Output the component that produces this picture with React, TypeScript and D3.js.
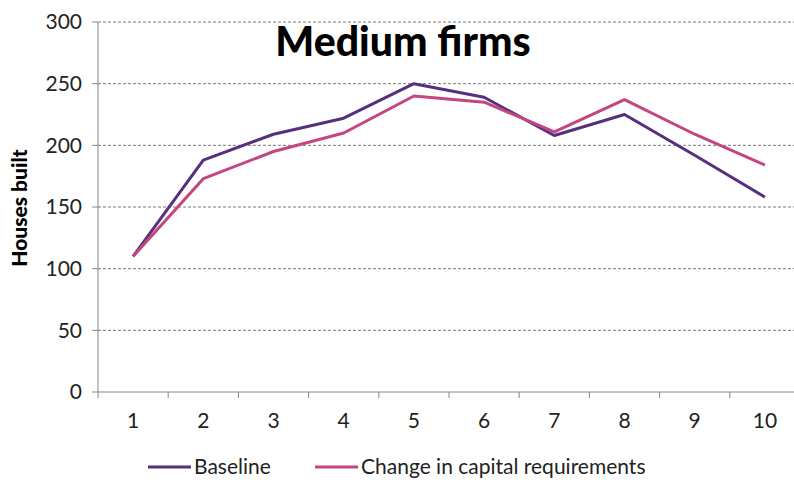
import React from "react";
import * as d3 from "d3";

const categories = ["1", "2", "3", "4", "5", "6", "7", "8", "9", "10"];
const baseline = [110, 188, 209, 222, 250, 239, 208, 225, 192, 158];
const capitalChange = [110, 173, 195, 210, 240, 235, 211, 237, 209, 184];
const yTicks = [0, 50, 100, 150, 200, 250, 300];

const W = 794;
const H = 487;
const left = 98;
const right = 800;
const top = 22;
const bottom = 392;

export default function App() {
  const x = d3.scaleBand<string>().domain(categories).range([left, right]);
  const y = d3.scaleLinear().domain([0, 300]).range([bottom, top]);
  const line = d3
    .line<number>()
    .x((_, i) => (x(categories[i]) as number) + x.bandwidth() / 2)
    .y((d) => y(d));
  const font = "Lato, 'Open Sans', sans-serif";
  const series = [
    { name: "Baseline", values: baseline, color: "#56307f", lx: 148 },
    { name: "Change in capital requirements", values: capitalChange, color: "#c4457f", lx: 315 },
  ];
  return (
    <svg width={W} height={H} style={{ position: "absolute", left: 0, top: 0, background: "#fff" }}>
      {yTicks.map((t) => (
        <g key={t}>
          {t > 0 && (
            <line x1={left} x2={W} y1={y(t)} y2={y(t)} stroke="#777" strokeWidth={1} strokeDasharray="3,2" />
          )}
          <line x1={92} x2={left} y1={y(t)} y2={y(t)} stroke="#888" strokeWidth={1} />
          <text x={82} y={y(t)} dy="0.35em" textAnchor="end" fontFamily={font} fontSize={21} fill="#222">
            {t}
          </text>
        </g>
      ))}
      <line x1={left} x2={left} y1={top} y2={bottom + 6} stroke="#888" strokeWidth={1} />
      <line x1={left} x2={W} y1={bottom} y2={bottom} stroke="#888" strokeWidth={1} />
      {categories.map((c, i) => (
        <g key={c}>
          {i > 0 && (
            <line x1={x(c)} x2={x(c)} y1={bottom} y2={bottom + 6} stroke="#888" strokeWidth={1} />
          )}
          <text
            x={(x(c) as number) + x.bandwidth() / 2}
            y={421}
            dy="0.35em"
            textAnchor="middle"
            fontFamily={font}
            fontSize={21}
            fill="#222"
          >
            {c}
          </text>
        </g>
      ))}
      {series.map((s) => (
        <path key={s.name} d={line(s.values) as string} fill="none" stroke={s.color} strokeWidth={3} strokeLinejoin="round" />
      ))}
      <text x={403} y={56} textAnchor="middle" fontFamily={font} fontWeight={900} fontSize={41} fill="#000">
        Medium firms
      </text>
      <text
        transform={`translate(27,208) rotate(-90)`}
        textAnchor="middle"
        fontFamily={font}
        fontWeight={900}
        fontSize={21}
        fill="#000"
      >
        Houses built
      </text>
      {series.map((s) => (
        <g key={s.name + "-leg"}>
          <line x1={s.lx} x2={s.lx + 43} y1={467} y2={467} stroke={s.color} strokeWidth={3} />
          <text x={s.lx + 46} y={467} dy="0.35em" fontFamily={font} fontSize={21} fill="#222">
            {s.name}
          </text>
        </g>
      ))}
    </svg>
  );
}
